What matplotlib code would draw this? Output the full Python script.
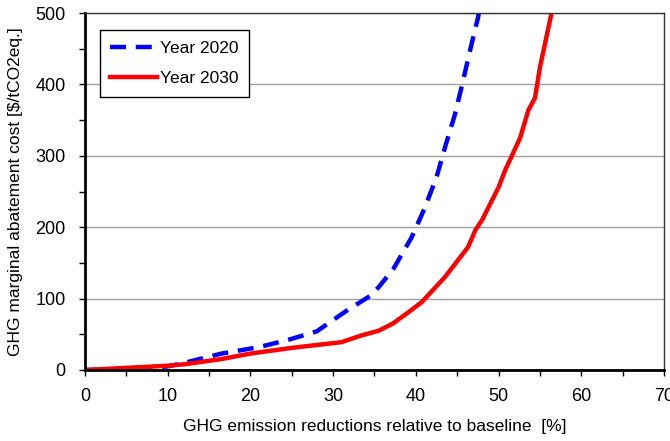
import matplotlib
matplotlib.use("Agg")
import matplotlib.pyplot as plt
from matplotlib.ticker import MultipleLocator

plt.rcParams['font.family'] = ['Liberation Sans', 'DejaVu Sans']

x2020 = [0, 5, 10, 12, 16.5, 21, 24.5, 28, 29, 31.5, 34.5, 35.5, 37.3, 39.5, 41, 42.5, 43.6, 44.7, 45.6, 46.6, 47.5, 47.8]
y2020 = [0, 1, 5, 10, 23, 32, 42, 54, 62, 82, 104, 116, 142, 186, 225, 270, 315, 357, 400, 450, 493, 510]

x2030 = [0, 5, 10, 12, 16.3, 20, 25, 31, 33.3, 35.5, 37.2, 39, 40.7, 43.5, 46.3, 47.2, 48, 50, 50.8, 52.6, 53.6, 54.4, 55, 56.4, 56.6]
y2030 = [0, 3, 6, 8, 15, 23, 31, 39, 48, 55, 65, 80, 95, 130, 172, 196, 210, 256, 280, 325, 364, 381, 424, 500, 510]

fig = plt.figure(figsize=(6.7, 4.41), dpi=100)
ax = fig.add_axes([85/670, 1 - 370/441, (664-85)/670, (370-13)/441])

ax.plot(x2020, y2020, color='#0000ff', lw=3.2, ls=(0, (3.6, 2.2)), label='Year 2020', solid_capstyle='butt')
ax.plot(x2030, y2030, color='#ff0000', lw=3.2, label='Year 2030')

ax.set_xlim(0, 70)
ax.set_ylim(0, 500)
ax.xaxis.set_major_locator(MultipleLocator(10))
ax.xaxis.set_minor_locator(MultipleLocator(5))
ax.yaxis.set_major_locator(MultipleLocator(100))
ax.yaxis.set_minor_locator(MultipleLocator(50))
ax.tick_params(which='both', direction='out', length=4, width=1, labelsize=13, color='black')
ax.tick_params(axis='x', pad=9)
ax.tick_params(axis='y', pad=10)
ax.grid(axis='y', which='major', color='#a0a0a0', lw=1)
ax.set_axisbelow(True)

for s in ['left', 'bottom']:
    ax.spines[s].set_linewidth(2)
    ax.spines[s].set_color('black')
for s in ['top', 'right']:
    ax.spines[s].set_linewidth(1)
    ax.spines[s].set_color('#333333')

ax.set_xlabel('GHG emission reductions relative to baseline  [%]', fontsize=12.5, labelpad=10)
ax.set_ylabel('GHG marginal abatement cost [$/tCO2eq.]', fontsize=12.5, labelpad=9)

leg = ax.legend(loc='upper left', bbox_to_anchor=(0.026, 0.952), fontsize=12.5, fancybox=False,
                edgecolor='black', framealpha=1, handlelength=2.7, borderpad=0.6, labelspacing=0.9,
                handletextpad=0.15, borderaxespad=0)
leg.get_frame().set_linewidth(1)

fig.savefig('out.png', dpi=100)
